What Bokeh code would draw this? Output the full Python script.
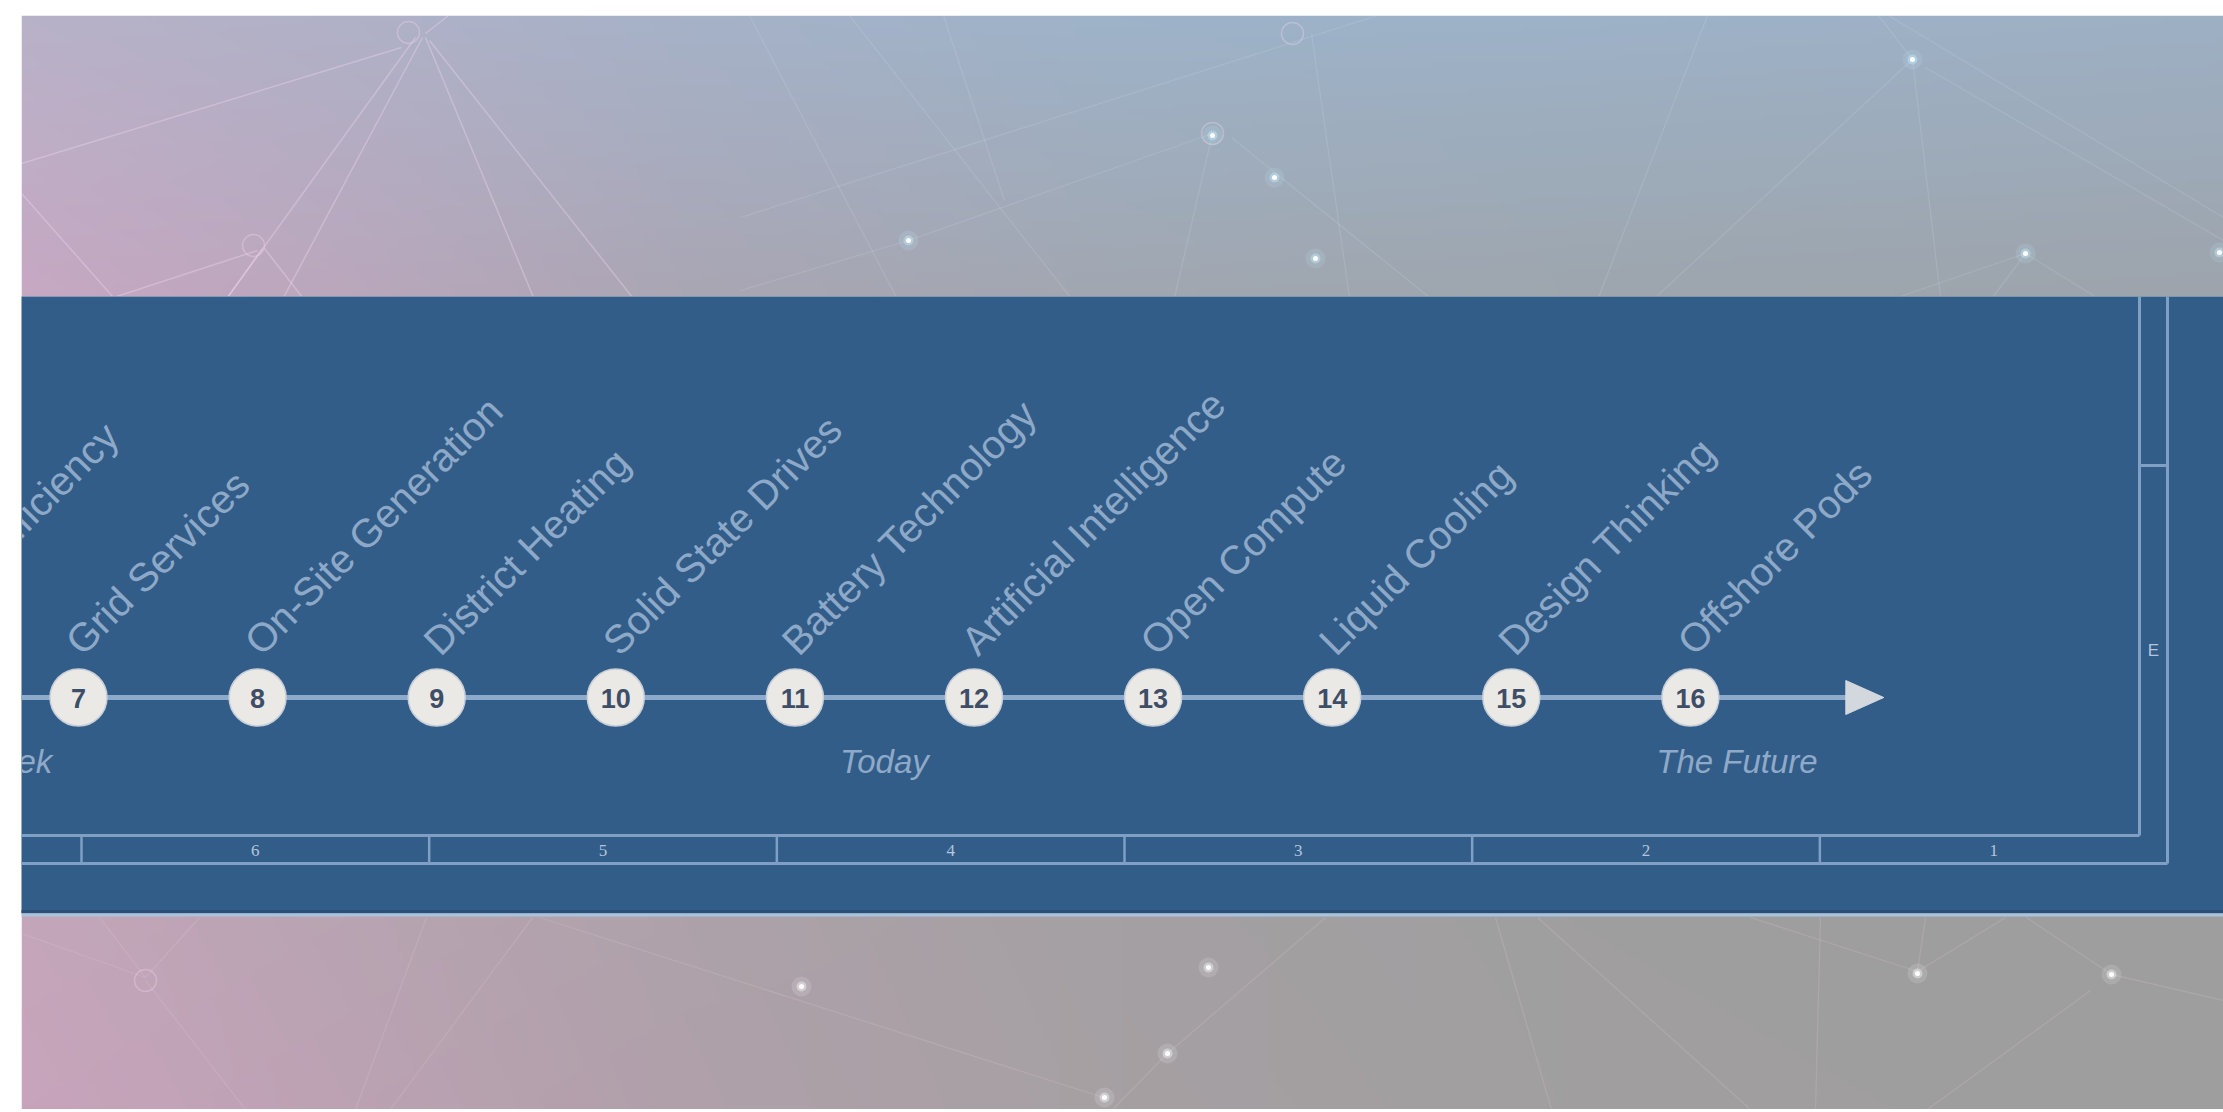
import numpy as np
from bokeh.plotting import figure
from bokeh.models import Range1d
from bokeh.embed import file_html
from bokeh.resources import INLINE
from bokeh.core.properties import value

# ---------------- data ----------------
milestone_num = [6, 7, 8, 9, 10, 11, 12, 13, 14, 15, 16]
milestone_label = ["Energy Efficiency", "Grid Services", "On-Site Generation",
                   "District Heating", "Solid State Drives", "Battery Technology",
                   "Artificial Intelligence", "Open Compute", "Liquid Cooling",
                   "Design Thinking", "Offshore Pods"]
era_labels = ["Last Week", "Today", "The Future"]
era_at = [6.42, 11.5, 16.26]          # in milestone units
ruler_labels = ["7", "6", "5", "4", "3", "2", "1"]
zone_labels = ["E"]

# decorative background network (reference pixel space)
top_lines_pink = [(21, 163, 401, 47), (415, 37, 227, 297), (422, 37, 283, 297),
                  (425, 37, 533, 297), (429, 40, 632, 297), (425, 33, 448, 15),
                  (257, 250, 113, 297), (21, 193, 113, 297), (262, 248, 227, 297),
                  (264, 248, 302, 297)]
top_lines_blue = [(749, 15, 896, 297), (849, 15, 1070, 297), (943, 15, 1004, 200),
                  (740, 217, 1377, 15), (908, 240, 1212, 133), (908, 240, 740, 290),
                  (1212, 133, 1174, 297), (1231, 137, 1429, 297), (1311, 33, 1349, 297),
                  (1912, 59, 1655, 297), (1912, 59, 1940, 297), (1912, 59, 1878, 15),
                  (1925, 67, 2223, 240), (1707, 15, 1598, 297), (1888, 15, 2223, 217),
                  (2025, 253, 1897, 297), (2025, 253, 1992, 297), (2025, 253, 2096, 297)]
top_glows = [(908, 240), (1212, 135), (1274, 177), (1315, 258), (1912, 59),
             (2025, 253), (2219, 252)]
top_rings = [(408, 32), (253, 245), (1292, 33), (1212, 133)]
bot_lines = [(21, 933, 145, 977), (145, 977, 199, 917), (99, 917, 145, 977),
             (145, 980, 245, 1109), (426, 917, 355, 1109), (532, 917, 390, 1109),
             (539, 917, 1103, 1097), (1325, 917, 1167, 1053), (1167, 1053, 1112, 1109),
             (1495, 917, 1551, 1109), (1537, 917, 1750, 1109), (1750, 917, 1917, 971),
             (2005, 917, 1917, 971), (1917, 971, 1925, 917), (2111, 974, 2026, 917),
             (2111, 974, 2223, 1000), (2090, 990, 1927, 1109), (1820, 917, 1815, 1109)]
bot_glows = [(801, 986), (1208, 967), (1167, 1053), (1104, 1097), (1917, 973), (2111, 974)]
bot_rings = [(145, 980)]

# ---------------- layout constants ----------------
X_FIRST, N_FIRST, STEP = 78.0, 7, 179.1
LINE_Y = 697
BAND_TOP, BAND_BOT = 296, 913
RULER_T, RULER_B = 835, 863
INNER_X, OUTER_X = 2139, 2167
CELL0, CELL_W = 81.0, 347.67
LEFT, RIGHT, TOP, BOTTOM = 21, 2223, 15, 1109

def mx(n):
    return X_FIRST + (n - N_FIRST) * STEP

p = figure(width=RIGHT, height=BOTTOM, x_range=Range1d(LEFT, RIGHT),
           y_range=Range1d(BOTTOM, TOP), output_backend="svg",
           toolbar_location=None, x_axis_type=None, y_axis_type=None,
           min_border_left=LEFT, min_border_top=TOP, min_border_right=0,
           min_border_bottom=0, title=None)
p.outline_line_color = None
p.background_fill_color = "white"
p.border_fill_color = "white"

# ---------------- gradient backgrounds ----------------
def gradient(w, h, cols_frac, top_row, bot_row):
    fr = np.linspace(0, 1, w)
    img = np.zeros((h, w, 4), dtype=np.uint8)
    tr = np.array(top_row, float)
    br = np.array(bot_row, float)
    t = np.stack([np.interp(fr, cols_frac, tr[:, c]) for c in range(3)], axis=1)
    b = np.stack([np.interp(fr, cols_frac, br[:, c]) for c in range(3)], axis=1)
    for r in range(h):
        a = r / (h - 1)
        img[r, :, :3] = (t * (1 - a) + b * a).astype(np.uint8)
    img[:, :, 3] = 255
    return img.view(dtype=np.uint32).reshape((h, w))

cols = [0, 0.15, 0.3, 0.5, 0.7, 1.0]
top_img = gradient(560, 72, cols,
                   [(184, 178, 200), (176, 177, 199), (166, 178, 200), (158, 179, 201), (157, 178, 200), (157, 176, 196)],
                   [(199, 168, 195), (186, 167, 188), (170, 166, 180), (161, 167, 177), (158, 166, 174), (158, 164, 172)])
bot_img = gradient(560, 50, cols,
                   [(196, 166, 186), (184, 164, 178), (174, 162, 170), (164, 160, 163), (160, 159, 160), (158, 158, 159)],
                   [(200, 164, 188), (188, 162, 179), (176, 160, 170), (166, 160, 163), (161, 159, 160), (159, 158, 159)])
p.image_rgba(image=[top_img], x=LEFT, y=TOP, dw=RIGHT - LEFT, dh=BAND_TOP - TOP)
p.image_rgba(image=[bot_img], x=LEFT, y=BAND_BOT, dw=RIGHT - LEFT, dh=BOTTOM - BAND_BOT)

def segs(lst, color, alpha, width):
    p.segment(x0=[s[0] for s in lst], y0=[s[1] for s in lst],
              x1=[s[2] for s in lst], y1=[s[3] for s in lst],
              line_color=color, line_alpha=alpha, line_width=width)

segs(top_lines_pink, "#f3d8f0", 0.38, 1.5)
segs(top_lines_blue, "#dbe8f5", 0.16, 1.3)
segs(bot_lines, "#f0dbe8", 0.16, 1.3)

for rings in (top_rings, bot_rings):
    p.scatter(x=[r[0] for r in rings], y=[r[1] for r in rings], size=22,
              fill_color=None, line_color="#f3d8f0", line_alpha=0.35, line_width=1.5)

for glows, halo in ((top_glows, "#c8f0ff"), (bot_glows, "#ffffff")):
    gx = [g[0] for g in glows]
    gy = [g[1] for g in glows]
    p.scatter(x=gx, y=gy, size=20, fill_color=halo, fill_alpha=0.14, line_color=None)
    p.scatter(x=gx, y=gy, size=10, fill_color=halo, fill_alpha=0.4, line_color=None)
    p.scatter(x=gx, y=gy, size=5, fill_color="white", fill_alpha=1.0, line_color=None)

# ---------------- blue band ----------------
p.quad(left=0, right=2400, top=BAND_TOP, bottom=BAND_BOT,
       fill_color="#325d88", line_color=None)
p.segment(x0=[0], y0=[BAND_BOT - 2], x1=[2400], y1=[BAND_BOT - 2],
          line_color="#2b5078", line_width=3)
p.segment(x0=[0], y0=[BAND_BOT + 1.5], x1=[2400], y1=[BAND_BOT + 1.5],
          line_color="#a9c3df", line_width=3)

FRAME = "#7f9fc5"
# frame + ruler
p.segment(x0=[0, 0, INNER_X, OUTER_X, INNER_X],
          y0=[RULER_T, RULER_B, BAND_TOP, BAND_TOP, 465],
          x1=[INNER_X, OUTER_X, INNER_X, OUTER_X, OUTER_X],
          y1=[RULER_T, RULER_B, RULER_T, RULER_B, 465],
          line_color=FRAME, line_width=3)
n_cells = len(ruler_labels)
sep_x = [CELL0 + (k - 1) * CELL_W for k in range(n_cells)]
p.segment(x0=sep_x, y0=[RULER_T] * n_cells, x1=sep_x, y1=[RULER_B] * n_cells,
          line_color=FRAME, line_width=2.5)
cell_cx = [CELL0 + (k - 1) * CELL_W + CELL_W / 2 for k in range(n_cells)]
vis = [i for i, c in enumerate(cell_cx) if c > LEFT]
p.text(x=[cell_cx[i] for i in vis], y=[850] * len(vis),
       text=[ruler_labels[i] for i in vis], text_align="center",
       text_baseline="middle", text_font=value("Liberation Serif"),
       text_font_size="17px", text_color="#b3c6dd")
p.text(x=[(INNER_X + OUTER_X) / 2], y=[650], text=zone_labels, text_align="center",
       text_baseline="middle", text_font=value("Liberation Sans"),
       text_font_size="17px", text_color="#b3c6dd")

# ---------------- timeline ----------------
xs = [mx(n) for n in milestone_num]
arrow_tip = mx(17.08)
p.segment(x0=[0], y0=[LINE_Y], x1=[arrow_tip - 30], y1=[LINE_Y],
          line_color="#8eaacb", line_width=5)
p.patch(x=[arrow_tip - 38, arrow_tip, arrow_tip - 38],
        y=[LINE_Y - 17, LINE_Y, LINE_Y + 17],
        fill_color="#d3d8df", line_color="#d3d8df")

p.scatter(x=xs, y=[LINE_Y] * len(xs), size=57, fill_color="#ebe9e6",
          line_color="#c7ced8", line_width=1.5)
vis_m = [i for i, x in enumerate(xs) if x > LEFT]
p.text(x=[xs[i] for i in vis_m], y=[LINE_Y + 1] * len(vis_m),
       text=[str(milestone_num[i]) for i in vis_m],
       text_align="center", text_baseline="middle",
       text_font=value("Liberation Sans"), text_font_style="bold",
       text_font_size="27px", text_color="#3d4e66")

p.text(x=[x - 6 for x in xs], y=[LINE_Y - 50] * len(xs), text=milestone_label,
       angle=np.pi / 4, text_align="left", text_baseline="alphabetic",
       text_font=value("Liberation Sans"), text_font_size="40px",
       text_color="#8ea9c8")

p.text(x=[mx(e) for e in era_at], y=[761] * len(era_labels), text=era_labels,
       text_align="center", text_baseline="middle",
       text_font=value("Liberation Sans"), text_font_style="italic",
       text_font_size="33px", text_color="#8fa9c8")

open("out.html", "w").write(file_html(p, INLINE))
